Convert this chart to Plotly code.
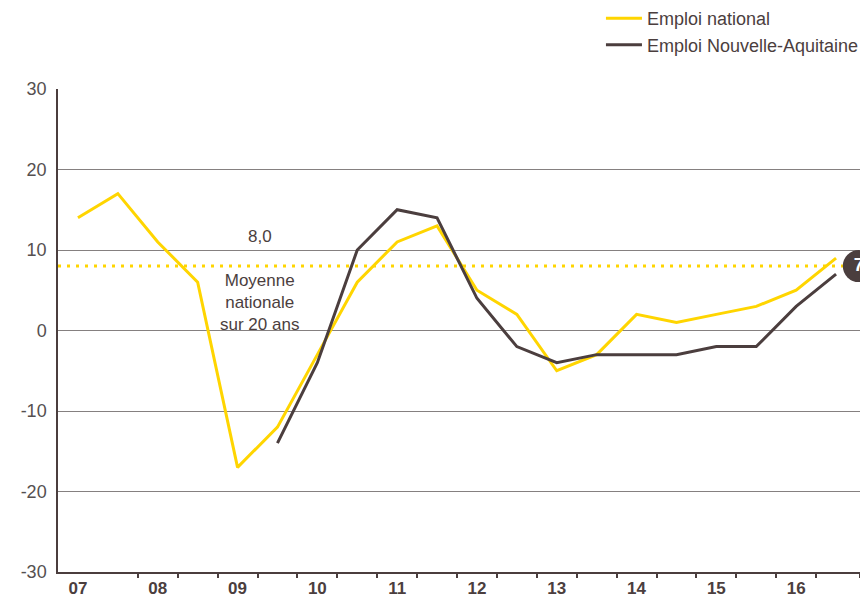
import plotly.graph_objects as go

# Data (semesters, 2007 -> 2016)
periods = list(range(20))
year_labels = ["07", "08", "09", "10", "11", "12", "13", "14", "15", "16"]
emploi_national = [14, 17, 11, 6, -17, -12, -3, 6, 11, 13, 5, 2, -5, -3, 2, 1, 2, 3, 5, 9]
na_periods = list(range(5, 20))
emploi_na = [-14, -4, 10, 15, 14, 4, -2, -4, -3, -3, -3, -2, -2, 3, 7]
moyenne_nationale = 8.0
last_na_value = 7
y_ticks = [-30, -20, -10, 0, 10, 20, 30]

YELLOW = "#FFD500"
DARK = "#4b3e3e"
FONT = "Liberation Sans, Arial, sans-serif"
XMAX = 19.6

fig = go.Figure()

fig.add_trace(go.Scatter(
    x=periods, y=emploi_national, mode="lines", name="Emploi national",
    line=dict(color=YELLOW, width=3)))
fig.add_trace(go.Scatter(
    x=na_periods, y=emploi_na, mode="lines", name="Emploi Nouvelle-Aquitaine",
    line=dict(color=DARK, width=3)))

# Average dotted line
fig.add_trace(go.Scatter(
    x=[-0.5, 19.3], y=[moyenne_nationale, moyenne_nationale], mode="lines",
    line=dict(color=YELLOW, width=3, dash="3px,6px"), showlegend=False,
    hoverinfo="skip"))

# Badge with last value
fig.add_trace(go.Scatter(
    x=[19.57], y=[moyenne_nationale], mode="markers+text",
    marker=dict(size=32, color=DARK), text=[f"<b>{last_na_value}</b>"],
    textposition="middle center", textfont=dict(color="white", size=18, family=FONT),
    showlegend=False, cliponaxis=False, hoverinfo="skip"))

fig.add_annotation(x=4.55, y=moyenne_nationale, yshift=18,
                   text=f"{moyenne_nationale:.1f}".replace(".", ","),
                   showarrow=False, yanchor="bottom",
                   font=dict(size=17, color=DARK, family=FONT))
fig.add_annotation(x=4.55, y=moyenne_nationale, yshift=-3,
                   text="Moyenne<br>nationale<br>sur 20 ans",
                   showarrow=False, yanchor="top", align="center",
                   font=dict(size=17, color=DARK, family=FONT))

fig.update_layout(
    width=860, height=590,
    margin=dict(l=50, r=8, t=81, b=26, autoexpand=False),
    paper_bgcolor="white", plot_bgcolor="white",
    font=dict(family=FONT, color=DARK),
    showlegend=True,
    legend=dict(x=0.677, y=1.184, xanchor="left", yanchor="top",
                font=dict(size=18, color=DARK, family=FONT),
                bgcolor="rgba(0,0,0,0)", tracegroupgap=0, itemwidth=36),
    xaxis=dict(range=[-0.5, XMAX], tickvals=list(range(0, 20, 2)),
               ticktext=[f"<b>{y}</b>" for y in year_labels],
               tickfont=dict(size=17, color=DARK, family=FONT),
               showgrid=False, zeroline=False, showline=True, automargin=False,
               linecolor=DARK, linewidth=1.5, ticks="", ticklabelstandoff=0),
    xaxis2=dict(range=[-0.5, XMAX], overlaying="x", side="bottom",
                tickvals=[i + 0.5 for i in range(1, 19)] + [XMAX],
                showticklabels=False, ticks="outside", ticklen=5, automargin=False,
                tickcolor=DARK, tickwidth=1.5, showgrid=False, zeroline=False,
                showline=False),
    yaxis=dict(range=[-30, 30], tickvals=y_ticks, ticktext=[str(v) for v in y_ticks],
               tickfont=dict(size=18, color="#555050", family=FONT),
               showgrid=True, gridcolor="#858080", gridwidth=1.2, automargin=False,
               zeroline=False, showline=True, linecolor=DARK, linewidth=1.5,
               ticks="", ticklabelstandoff=6),
)

# dummy trace to activate xaxis2
fig.add_trace(go.Scatter(x=[0], y=[0], xaxis="x2", mode="markers",
                         marker=dict(opacity=0), showlegend=False, hoverinfo="skip"))

fig.write_html("out.html")
